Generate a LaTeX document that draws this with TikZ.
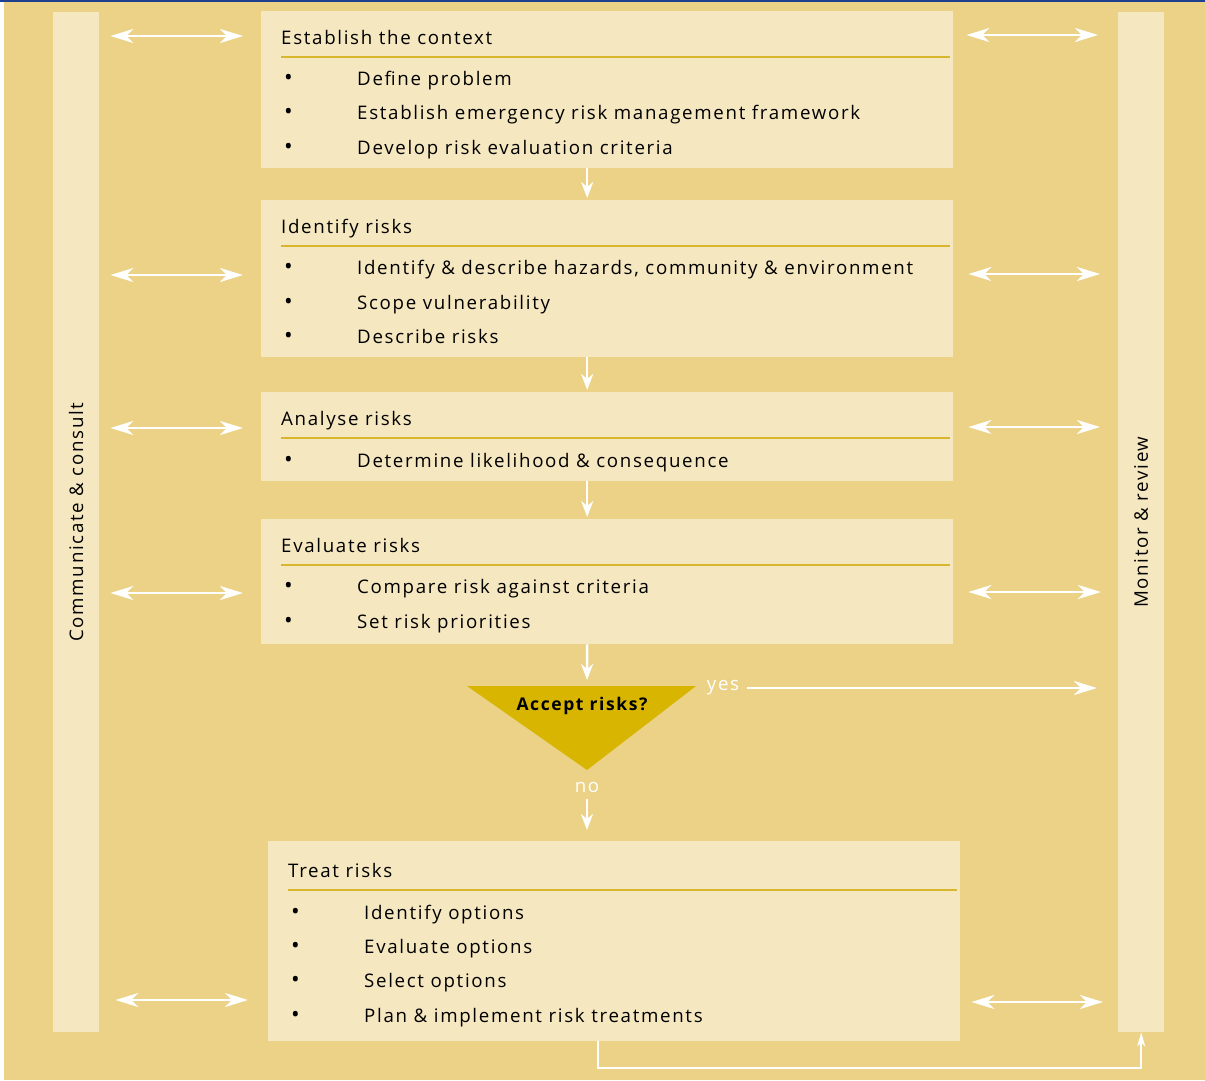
\documentclass[tikz,border=0pt]{standalone}
\usepackage{fontspec}
\setmainfont{Open Sans}[LetterSpace=9]
\usetikzlibrary{arrows.meta,positioning}

\definecolor{sand}{HTML}{EBD287}
\definecolor{paper}{HTML}{F5E7C0}
\definecolor{ochre}{HTML}{D8B500}
\definecolor{rulegold}{HTML}{D8B62E}
\definecolor{topblue}{HTML}{1F3F8F}

\begin{document}
\begin{tikzpicture}[x=1pt,y=-1pt,font=\fontsize{18.7}{22}\selectfont]
  \tikzstyle{bar}=[rectangle,fill=paper,minimum width=46pt,minimum height=1020pt,anchor=north west,inner sep=0pt]
  \tikzstyle{stage}=[rectangle,fill=paper,minimum width=692pt,anchor=north west,inner sep=0pt]
  \tikzstyle{head}=[anchor=base west,inner sep=0pt]
  \tikzstyle{item}=[head,execute at begin node={\makebox[73pt][l]{\fontsize{23}{23}\selectfont •}}]
  \tikzstyle{rule}=[draw=rulegold,line width=1.4pt]
  \tikzstyle{answer}=[inner sep=0pt,text=white]
  \tikzstyle{down}=[-{Stealth[length=16pt,width=12pt,inset=5pt]},white,line width=2.5pt]
  \tikzstyle{oneway}=[-{Stealth[length=23pt,width=14pt,inset=7pt]},white,line width=2.5pt]
  \tikzstyle{twoway}=[{Stealth[length=23pt,width=14pt,inset=7pt]}-{Stealth[length=23pt,width=14pt,inset=7pt]},white,line width=2.5pt,shorten <=11pt,shorten >=18pt]
  \tikzstyle{back}=[-{Stealth[length=14pt,width=8pt,inset=4pt]},white,line width=2pt]

  % page
  \useasboundingbox (0,0) rectangle (1205,1080);
  \fill[sand] (4,2) rectangle (1205,1080);
  \fill[topblue] (0,0) rectangle (1205,1.6);

  % side bars
  \node [bar] (comm) at (53,12) {};
  \node [bar] (monitor) at (1118,12) {};
  \node [rotate=90] (commtext) at (comm.center) {Communicate \& consult};
  \node [rotate=90] (montext) at (monitor.center) {Monitor \& review};

  % stages
  \node [stage,minimum height=157pt] (context) at (261,11) {};
  \node [head] (contexthead) at (281,44) {Establish the context};
  \draw [rule] (281,57) -- (950,57);
  \node [item] (define) at (284,85) {Define problem};
  \node [item] (framework) at (284,119) {Establish emergency risk management framework};
  \node [item] (criteria) at (284,154) {Develop risk evaluation criteria};

  \node [stage,minimum height=157pt] (identify) at (261,200) {};
  \node [head] (identifyhead) at (281,233) {Identify risks};
  \draw [rule] (281,246) -- (950,246);
  \node [item] (hazards) at (284,274) {Identify \& describe hazards, community \& environment};
  \node [item] (scope) at (284,309) {Scope vulnerability};
  \node [item] (describe) at (284,343) {Describe risks};

  \node [stage,minimum height=89pt] (analyse) at (261,392) {};
  \node [head] (analysehead) at (281,425) {Analyse risks};
  \draw [rule] (281,438) -- (950,438);
  \node [item] (likelihood) at (284,467) {Determine likelihood \& consequence};

  \node [stage,minimum height=125pt] (evaluate) at (261,519) {};
  \node [head] (evaluatehead) at (281,552) {Evaluate risks};
  \draw [rule] (281,565) -- (950,565);
  \node [item] (compare) at (284,593) {Compare risk against criteria};
  \node [item] (priorities) at (284,628) {Set risk priorities};

  \node [stage,minimum height=200pt] (treat) at (268,841) {};
  \node [head] (treathead) at (288,877) {Treat risks};
  \draw [rule] (288,890) -- (957,890);
  \node [item] (options) at (291,919) {Identify options};
  \node [item] (evaloptions) at (291,953) {Evaluate options};
  \node [item] (select) at (291,987) {Select options};
  \node [item] (plan) at (291,1022) {Plan \& implement risk treatments};

  % decision
  \coordinate (decleft) at (467,686);
  \coordinate (decright) at (696,686);
  \coordinate (apex) at (587,770);
  \fill [ochre] (decleft) -- (decright) -- (apex) -- cycle;
  \node [font=\fontsize{17.5}{21}\bfseries] (accept) at (582,706) {Accept risks?};
  \node [answer] (yes) at (723,688) {yes};
  \node [answer] (no) at (587,787) {no};

  % flow
  \draw [down,shorten >=2pt] ([xshift=-20pt]context.south) -- ([xshift=-20pt]identify.north);
  \draw [down,shorten >=2pt] ([xshift=-20pt]identify.south) -- ([xshift=-20pt]analyse.north);
  \draw [down,shorten >=2pt] ([xshift=-20pt]analyse.south) -- ([xshift=-20pt]evaluate.north);
  \draw [down,shorten >=6pt] ([xshift=-20pt]evaluate.south) -- (apex |- decleft);
  \draw [down,shorten <=7pt,shorten >=11pt] (no.south) -- (treat.north -| no.south);
  \draw [oneway,shorten <=8pt,shorten >=21pt] (yes.east) -- (monitor.west |- yes.east);
  \draw [back] ([xshift=-16pt]treat.south) -- ++(0,27) -| (monitor.south);

  % communicate & monitor
  \draw [twoway] (comm.east |- 0,36) -- (context.west |- 0,36);
  \draw [twoway] (comm.east |- 0,275) -- (identify.west |- 0,275);
  \draw [twoway] (comm.east |- 0,428) -- (analyse.west |- 0,428);
  \draw [twoway] (comm.east |- 0,593) -- (evaluate.west |- 0,593);
  \draw [twoway,shorten <=16pt,shorten >=20pt] (comm.east |- 0,1000) -- (treat.west |- 0,1000);
  \draw [twoway,shorten <=13pt,shorten >=20pt] (context.east |- 0,35) -- (monitor.west |- 0,35);
  \draw [twoway,shorten <=15pt,shorten >=18pt] (identify.east |- 0,274) -- (monitor.west |- 0,274);
  \draw [twoway,shorten <=15pt,shorten >=18pt] (analyse.east |- 0,427) -- (monitor.west |- 0,427);
  \draw [twoway,shorten <=15pt,shorten >=17pt] (evaluate.east |- 0,592) -- (monitor.west |- 0,592);
  \draw [twoway,shorten <=11pt,shorten >=15pt] (treat.east |- 0,1002) -- (monitor.west |- 0,1002);
\end{tikzpicture}
\end{document}
